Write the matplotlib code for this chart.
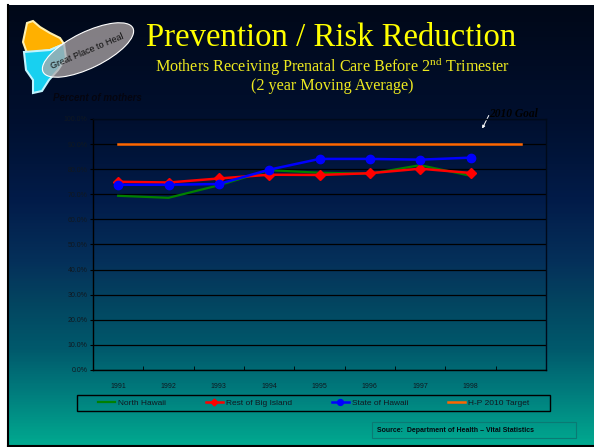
import numpy as np
import matplotlib
matplotlib.use("Agg")
import matplotlib.pyplot as plt
from matplotlib.colors import LinearSegmentedColormap
from matplotlib.patches import Ellipse, Polygon, Rectangle

plt.rcParams['mathtext.fontset'] = 'custom'
plt.rcParams['mathtext.rm'] = 'Liberation Serif'

# data (percent of mothers, 2 year moving average)
anos = ['1991', '1992', '1993', '1994', '1995', '1996', '1997', '1998', '']
north_hawaii = [69.4, 68.6, 73.6, 79.6, 78.6, 78.2, 81.6, 77.4]
rest_big_island = [75.0, 74.7, 76.3, 77.8, 77.7, 78.4, 80.2, 78.5]
state_hawaii = [73.8, 73.8, 74.1, 79.8, 84.1, 84.1, 83.8, 84.6]
meta_2010 = [90, 90, 90, 90, 90, 90, 90, 90, 90]
series_nomes = ['North Hawaii', 'Rest of Big Island', 'State of Hawaii', 'H-P 2010 Target']

W, H = 594, 447
fig = plt.figure(figsize=(W / 100, H / 100), dpi=100, facecolor='white')

# fundo do slide (gradiente) em coordenadas de pixel
bg = fig.add_axes([0, 0, 1, 1])
bg.set_xlim(0, W)
bg.set_ylim(H, 0)
bg.axis('off')
paradas = [(0.0, '#000818'), (120 / 447, '#001030'), (200 / 447, '#021c4a'),
           (260 / 447, '#05305a'), (300 / 447, '#034460'), (350 / 447, '#005a6c'),
           (390 / 447, '#007a7c'), (1.0, '#00aa90')]
cmap = LinearSegmentedColormap.from_list('slide', paradas)
grad = np.linspace(0, 1, 400).reshape(-1, 1)
bg.imshow(grad, cmap=cmap, aspect='auto', extent=(8, W, H, 5), zorder=0)
bg.plot([8, 8], [5, H - 1.5], color='black', lw=1.5, zorder=1)
bg.plot([8, W], [H - 1.5, H - 1.5], color='black', lw=1.5, zorder=1)

# logo "Great Place to Heal"
ilha_laranja = Polygon([(27, 23), (33, 21), (40, 27), (50, 33), (60, 38), (64, 44),
                        (50, 50), (27, 53), (23, 42)], closed=True,
                       facecolor='#ffb000', edgecolor='#fff0b0', lw=1.5, zorder=2)
ilha_ciano = Polygon([(24, 52), (50, 50), (64, 44), (66, 58), (58, 70), (49, 80),
                      (42, 91), (33, 93), (33, 80), (26, 70)], closed=True,
                     facecolor='#18d0f0', edgecolor='#c0f4ff', lw=1.5, zorder=2)
bg.add_patch(ilha_laranja)
bg.add_patch(ilha_ciano)
bg.add_patch(Ellipse((88, 50), 100, 36, angle=-26, facecolor='#b0a8a8', alpha=0.75,
                     edgecolor='none', zorder=3))
bg.add_patch(Ellipse((88, 50), 100, 36, angle=-26, facecolor='none',
                     edgecolor='white', lw=0.8, zorder=3))
bg.text(87, 51, 'Great Place to Heal', fontsize=6.5, family='Liberation Sans',
        rotation=23, ha='center', va='center', color='#101010', zorder=4)

# titulos
bg.text(331, 46, 'Prevention / Risk Reduction', fontsize=23.6, family='Liberation Serif',
        color='#ffff00', ha='center', va='baseline')
bg.text(332, 90, 'Mothers Receiving Prenatal Care Before 2$^{\\mathrm{nd}}$ Trimester\n'
        '(2 year Moving Average)', fontsize=11.6, family='Liberation Serif',
        color='#eeea20', ha='center', va='baseline', multialignment='center',
        linespacing=0.97)
bg.text(53, 98, 'Percent of mothers', fontsize=7, family='Liberation Sans',
        weight='bold', style='italic', color='#050510', ha='left', va='center')

# grafico
ax = fig.add_axes([93 / W, 1 - 370 / H, (546 - 93) / W, (370 - 119) / H])
ax.patch.set_alpha(0)
x = np.arange(len(anos))
ax.plot(x[:len(north_hawaii)], north_hawaii, color='#008000', lw=1.6, label=series_nomes[0], zorder=3)
ax.plot(x[:len(rest_big_island)], rest_big_island, color='#ff0000', lw=1.8, marker='D',
        ms=5, label=series_nomes[1], zorder=4)
ax.plot(x[:len(state_hawaii)], state_hawaii, color='#0000ff', lw=1.8, marker='o',
        ms=6, label=series_nomes[2], zorder=5)
ax.plot(x, meta_2010, color='#ff6600', lw=1.8, label=series_nomes[3], zorder=3)

ax.set_xlim(-0.5, len(anos) - 0.5)
ax.set_ylim(0, 100)
ax.set_yticks(np.arange(0, 101, 10))
ax.set_yticklabels(['%.1f%%' % v for v in np.arange(0, 101, 10)], fontsize=5,
                   family='Liberation Sans', color='#101820')
ax.set_xticks(x)
ax.set_xticklabels(anos, fontsize=5, family='Liberation Sans', color='#101820')
ax.set_xticks(x[:-1] + 0.5, minor=True)
ax.tick_params(axis='x', which='major', length=0, pad=9)
ax.tick_params(axis='x', which='minor', length=3, direction='in', color='black')
ax.tick_params(axis='y', length=2, width=0.8, color='black', pad=2)
ax.grid(axis='y', color='black', lw=0.9)
for s in ax.spines.values():
    s.set_color('black')
    s.set_linewidth(1.0)
ax.spines['right'].set_color('#000a1a')
ax.spines['top'].set_color('#000a1a')

# anotacao da meta
bg.text(489, 114, '2010 Goal', fontsize=8.3, family='Liberation Serif', weight='bold',
        style='italic', color='black', ha='left', va='center')
bg.annotate('', xy=(481, 131), xytext=(490, 113),
            arrowprops=dict(arrowstyle='-|>', color='white', lw=0.7, mutation_scale=4))

# legenda
bg.add_patch(Rectangle((77, 395), 473, 16, facecolor='none', edgecolor='black', lw=1.0, zorder=2))
leg = ax.legend(loc='center', ncol=4,
                bbox_to_anchor=((77 + 550) / 2 / W, 1 - 403 / H),
                bbox_transform=fig.transFigure, frameon=False,
                prop={'family': 'Liberation Sans', 'size': 6}, handlelength=2.05,
                handletextpad=0.35, borderaxespad=0, borderpad=0, columnspacing=4.8,
                markerscale=0.7)
for t in leg.get_texts():
    t.set_color('#101820')

# fonte
bg.add_patch(Rectangle((372, 422), 204, 16, facecolor='none', edgecolor='#0a7a74', lw=0.8))
bg.text(377, 430.5, 'Source:  Department of Health \u2013 Vital Statistics', fontsize=5,
        family='Liberation Sans', weight='bold', color='#050a10', ha='left', va='center')

fig.savefig('out.png', dpi=100, facecolor='white')
